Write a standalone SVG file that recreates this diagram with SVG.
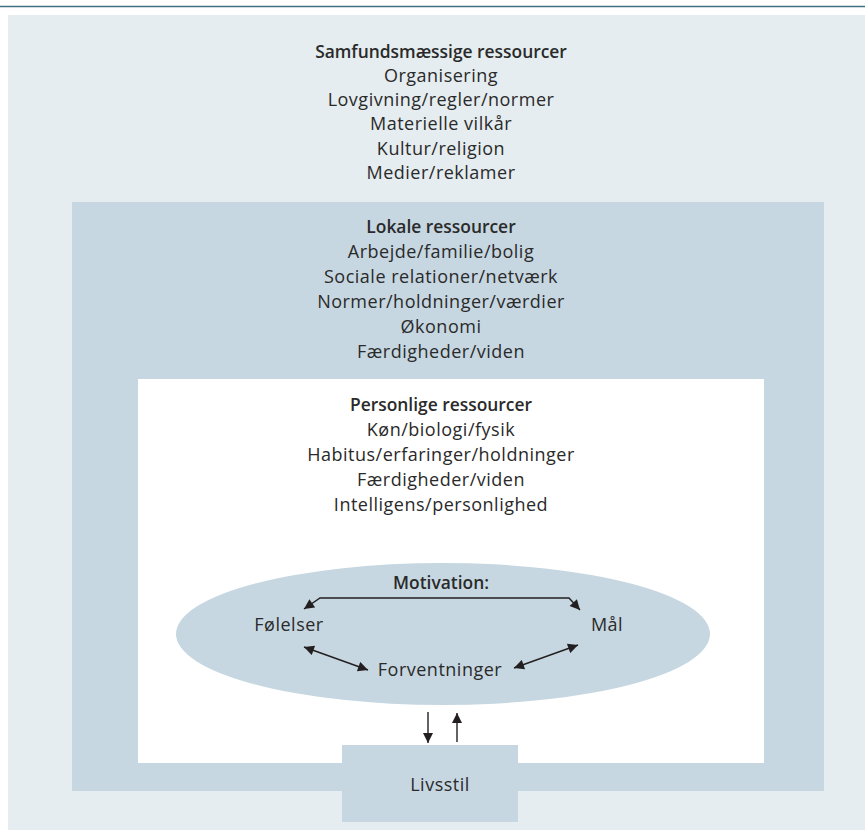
<svg xmlns="http://www.w3.org/2000/svg" width="865" height="830" viewBox="0 0 865 830">
<defs>
<style>
text{font-family:"Open Sans","Noto Sans","DejaVu Sans",sans-serif;font-size:18px;letter-spacing:0.5px;fill:#2a2a2a;text-anchor:middle}
.h{font-weight:600;font-size:17.4px;letter-spacing:0}
.ln{stroke:#231f20;stroke-width:1.4;fill:none}
</style>
<marker id="ah" viewBox="0 0 10 10" refX="10" refY="5" markerWidth="11" markerHeight="10" markerUnits="userSpaceOnUse" orient="auto-start-reverse">
<path d="M0,0 L10,5 L0,10 z" fill="#231f20"/>
</marker>
</defs>
<rect width="865" height="830" fill="#ffffff"/>
<line x1="0" y1="6.5" x2="865" y2="6.5" stroke="#3e7283" stroke-width="1.5"/>
<g id="samfund">
<rect x="8" y="15" width="857" height="815" fill="#e5edf0"/>
<text class="h" x="441" y="58">Samfundsmæssige ressourcer</text>
<text x="441" y="82">Organisering</text>
<text x="441" y="106">Lovgivning/regler/normer</text>
<text x="441" y="130">Materielle vilkår</text>
<text x="441" y="155">Kultur/religion</text>
<text x="441" y="179">Medier/reklamer</text>
</g>
<g id="lokale">
<rect x="72" y="202" width="752" height="589" fill="#c6d7e1"/>
<text class="h" x="441" y="233">Lokale ressourcer</text>
<text x="441" y="258">Arbejde/familie/bolig</text>
<text x="441" y="283">Sociale relationer/netværk</text>
<text x="441" y="308">Normer/holdninger/værdier</text>
<text x="441" y="333">Økonomi</text>
<text x="441" y="358">Færdigheder/viden</text>
</g>
<g id="personlige">
<rect x="138" y="379" width="626" height="384" fill="#ffffff"/>
<text class="h" x="441" y="411">Personlige ressourcer</text>
<text x="441" y="436">Køn/biologi/fysik</text>
<text x="441" y="461">Habitus/erfaringer/holdninger</text>
<text x="441" y="486">Færdigheder/viden</text>
<text x="441" y="511">Intelligens/personlighed</text>
</g>
<g id="motivation">
<ellipse cx="443" cy="634" rx="267" ry="71" fill="#c6d7e1"/>
<text class="h" x="441" y="589">Motivation:</text>
</g>
<g id="folelser"><text x="289" y="631">Følelser</text></g>
<g id="maal"><text x="607" y="631">Mål</text></g>
<g id="forventninger"><text x="440" y="676">Forventninger</text></g>
<g id="livsstil">
<rect x="342" y="745" width="176" height="77" fill="#c6d7e1"/>
<text x="440" y="791">Livsstil</text>
</g>
<g id="connectors">
<path class="ln" d="M304,609 L320,598 L569,598 L580,610" marker-start="url(#ah)" marker-end="url(#ah)"/>
<line class="ln" x1="304" y1="647" x2="368" y2="670" marker-start="url(#ah)" marker-end="url(#ah)"/>
<line class="ln" x1="578" y1="645" x2="514" y2="668" marker-start="url(#ah)" marker-end="url(#ah)"/>
<line class="ln" x1="428" y1="712" x2="428" y2="743" marker-end="url(#ah)"/>
<line class="ln" x1="457" y1="742" x2="457" y2="713" marker-end="url(#ah)"/>
</g>
</svg>
